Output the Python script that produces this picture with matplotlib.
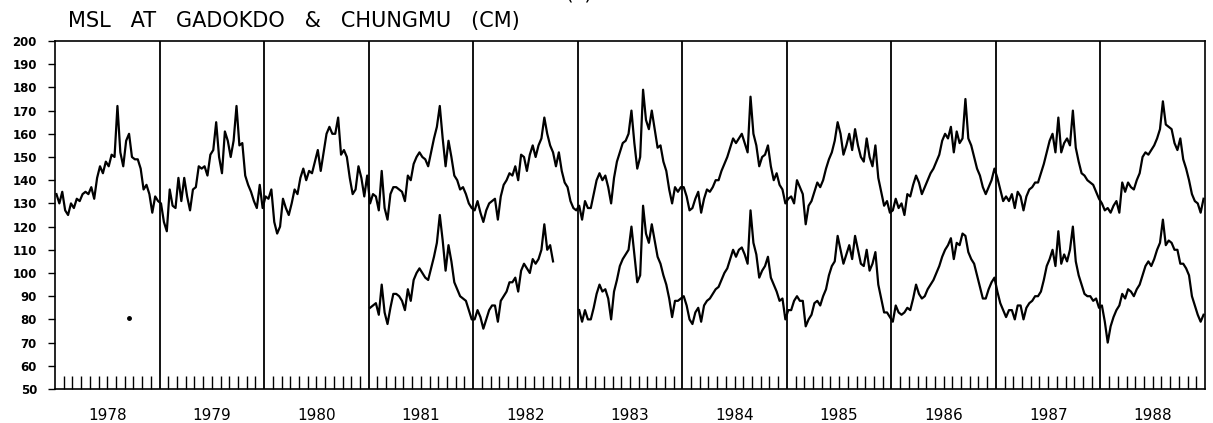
import numpy as np
import matplotlib
matplotlib.use('Agg')
import matplotlib.pyplot as plt

# dekadal (10-day) mean sea level, cm, 36 values per year
years = list(range(1978, 1989))

chungmu_cm = [
    # 1978
    134, 130, 135, 127, 125, 130, 128, 132, 131, 134, 135, 134,
    137, 132, 141, 146, 143, 148, 146, 151, 150, 172, 152, 146,
    157, 160, 150, 149, 149, 145, 136, 138, 134, 126, 133, 131,
    # 1979
    130, 122, 118, 136, 129, 128, 141, 131, 141, 133, 127, 136,
    137, 146, 145, 146, 142, 151, 153, 165, 150, 143, 161, 157,
    150, 157, 172, 155, 156, 142, 138, 135, 131, 128, 138, 128,
    # 1980
    133, 132, 136, 122, 117, 120, 132, 128, 125, 130, 136, 134,
    141, 145, 140, 144, 143, 148, 153, 144, 152, 160, 163, 160,
    160, 167, 151, 153, 150, 141, 134, 136, 146, 141, 133, 142,
    # 1981
    130, 134, 133, 127, 144, 128, 123, 134, 137, 137, 136, 135,
    131, 142, 140, 147, 150, 152, 150, 149, 146, 152, 158, 163,
    172, 158, 146, 157, 150, 142, 140, 136, 137, 134, 130, 128,
    # 1982
    127, 131, 126, 122, 127, 130, 131, 132, 123, 133, 138, 140,
    143, 142, 146, 140, 151, 150, 144, 151, 155, 150, 155, 158,
    167, 160, 155, 152, 146, 152, 144, 139, 137, 131, 128, 127,
    # 1983
    129, 123, 131, 128, 128, 134, 140, 143, 140, 142, 137, 130,
    141, 148, 152, 156, 157, 160, 170, 156, 145, 150, 179, 166,
    162, 170, 162, 154, 155, 148, 144, 136, 130, 137, 135, 137,
    # 1984
    137, 133, 127, 128, 132, 135, 126, 132, 136, 135, 137, 140,
    140, 144, 147, 150, 154, 158, 156, 158, 160, 156, 152, 176,
    160, 155, 146, 150, 151, 155, 146, 140, 143, 138, 136, 130,
    # 1985
    132, 133, 130, 140, 137, 134, 121, 129, 131, 135, 139, 137,
    140, 145, 149, 152, 157, 165, 160, 151, 155, 160, 153, 162,
    155, 150, 148, 158, 150, 146, 155, 141, 135, 129, 131, 126,
    # 1986
    127, 132, 128, 130, 125, 134, 133, 138, 142, 139, 134, 137,
    140, 143, 145, 148, 151, 157, 160, 158, 163, 152, 161, 156,
    158, 175, 158, 155, 150, 145, 142, 137, 134, 137, 140, 145,
    # 1987
    141, 136, 131, 133, 131, 134, 128, 135, 133, 127, 133, 136,
    137, 139, 139, 143, 147, 152, 157, 160, 152, 167, 152, 156,
    158, 155, 170, 154, 148, 143, 142, 140, 139, 138, 135, 132,
    # 1988
    130, 127, 128, 126, 129, 131, 126, 139, 135, 139, 137, 136,
    140, 143, 150, 152, 151, 153, 155, 158, 162, 174, 164, 163,
    162, 156, 153, 158, 149, 145, 140, 134, 131, 130, 126, 132,
]

# Gadokdo record: Jan 1981 - Sep 1982, then 1983 - 1988
gadokdo_8182_cm = [
    # 1981
    85, 86, 87, 82, 95, 83, 78, 85, 91, 91, 90, 88,
    84, 93, 88, 97, 100, 102, 100, 98, 97, 102, 107, 113,
    125, 114, 101, 112, 105, 96, 93, 90, 89, 88, 84, 80,
    # 1982 (ends late September)
    80, 84, 81, 76, 80, 84, 86, 86, 79, 88, 90, 92,
    96, 96, 98, 92, 101, 104, 102, 100, 106, 104, 106, 110,
    121, 110, 112, 105,
]
gadokdo_8388_cm = [
    # 1983
    84, 79, 84, 80, 80, 85, 91, 95, 92, 93, 89, 80,
    92, 97, 103, 106, 108, 110, 120, 108, 96, 99, 129, 117,
    113, 121, 114, 107, 104, 99, 95, 89, 81, 88, 88, 89,
    # 1984
    90, 86, 80, 78, 83, 85, 79, 86, 88, 89, 91, 93,
    94, 97, 100, 102, 106, 110, 107, 110, 111, 108, 104, 127,
    113, 108, 98, 101, 103, 107, 98, 95, 92, 88, 89, 80,
    # 1985
    84, 84, 88, 90, 88, 88, 77, 80, 82, 87, 88, 86,
    90, 93, 99, 103, 105, 116, 110, 104, 108, 112, 106, 116,
    110, 104, 103, 110, 101, 104, 109, 95, 89, 83, 83, 81,
    # 1986
    79, 86, 83, 82, 83, 85, 84, 89, 95, 91, 89, 90,
    93, 95, 97, 100, 103, 107, 110, 112, 115, 106, 113, 112,
    117, 116, 109, 106, 104, 99, 94, 89, 89, 93, 96, 98,
    # 1987
    92, 87, 84, 81, 84, 84, 80, 86, 86, 80, 85, 87,
    88, 90, 90, 92, 97, 103, 106, 110, 103, 118, 104, 108,
    105, 110, 120, 105, 99, 95, 91, 90, 90, 88, 89, 85,
    # 1988
    86, 79, 70, 77, 81, 84, 86, 91, 89, 93, 92, 90,
    93, 95, 99, 103, 105, 103, 106, 110, 113, 123, 112, 114,
    113, 110, 110, 104, 104, 102, 99, 90, 86, 82, 79, 82,
]

# isolated reading in 1978
stray_t, stray_cm = 1978.71, 80.5


def dekad_times(start_year, n):
    return start_year + (np.arange(n) + 0.5) / 36.0


t_chungmu = dekad_times(1978, len(chungmu_cm))
t_gad1 = dekad_times(1981, len(gadokdo_8182_cm))
t_gad2 = dekad_times(1983, len(gadokdo_8388_cm))

plt.rcParams['font.family'] = ['DejaVu Sans']

fig = plt.figure(figsize=(12.13, 4.23), dpi=100)
ax = fig.add_axes([55 / 1213, 1 - 389 / 423, 1150 / 1213, 348 / 423])

lw = 1.6
ax.plot(t_chungmu, chungmu_cm, color='black', lw=lw)
ax.plot(t_gad1, gadokdo_8182_cm, color='black', lw=lw)
ax.plot(t_gad2, gadokdo_8388_cm, color='black', lw=lw)
ax.plot([stray_t], [stray_cm], 'o', color='black', ms=2.5)

# year separators
for yr in years[1:]:
    ax.axvline(yr, color='black', lw=1.3)

ax.set_xlim(1978, 1989)
ax.set_ylim(50, 200)

ax.set_yticks(np.arange(50, 201, 10))
ax.tick_params(axis='y', direction='out', length=5, width=1, pad=8,
               labelsize=8.5)
for lab in ax.get_yticklabels():
    lab.set_fontweight('bold')

# month ticks inside along the bottom
month_ticks = [yr + m / 12 for yr in years for m in range(1, 12)]
ax.set_xticks(month_ticks)
ax.set_xticklabels([])
ax.tick_params(axis='x', direction='in', length=9.5, width=1)

for yr in years:
    ax.text(yr + 0.5, -0.055, str(yr), transform=ax.get_xaxis_transform(),
            ha='center', va='top', fontsize=11)

for sp in ax.spines.values():
    sp.set_linewidth(1.2)

fig.text(68 / 1213, 1 - 27 / 423, 'MSL   AT   GADOKDO   &   CHUNGMU   (CM)',
         fontsize=15, ha='left', va='baseline')
fig.text(565 / 1213, 1.0, '(a)', fontsize=14, ha='left', va='baseline')

fig.savefig('out.png', dpi=100)
